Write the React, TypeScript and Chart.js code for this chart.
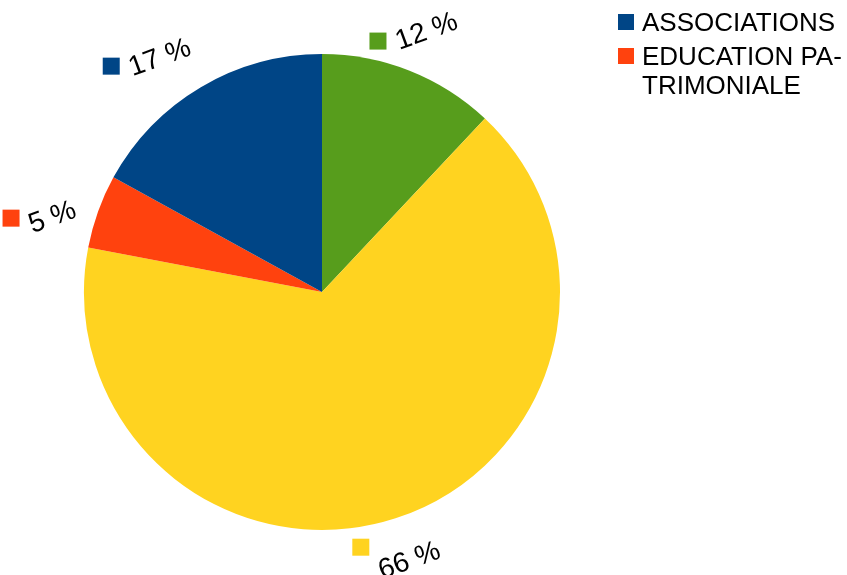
import React, { useEffect, useRef } from "react";
import { Chart, registerables } from "chart.js";

Chart.register(...registerables);

// Data in LibreOffice order (drawn counter-clockwise from 12 o'clock)
const categories = ["ASSOCIATIONS", "EDUCATION PATRIMONIALE", "", ""];
const legendLines = [["ASSOCIATIONS"], ["EDUCATION PA-", "TRIMONIALE"]];
const values = [17, 5, 66, 12];
const colors = ["#004586", "#ff420e", "#ffd320", "#579d1c"];

const FONT = '"Liberation Sans", Arial, sans-serif';

const total = values.reduce((a, b) => a + b, 0);
const pctText = values.map((v) => `${Math.round((v / total) * 100)} %`);

// Chart.js draws clockwise, so reverse to reproduce counter-clockwise order
const drawLabels = [...categories].reverse();
const drawValues = [...values].reverse();
const drawColors = [...colors].reverse();
const drawPct = [...pctText].reverse();

const labelPlugin = {
  id: "pctLabels",
  afterDatasetsDraw(chart: any) {
    const ctx = chart.ctx as CanvasRenderingContext2D;
    const meta = chart.getDatasetMeta(0);
    const fs = 28;
    const cap = fs * 0.72;
    const theta = (-20 * Math.PI) / 180;
    const c = Math.cos(theta);
    const s = Math.abs(Math.sin(theta));
    ctx.save();
    ctx.font = `${fs}px ${FONT}`;
    meta.data.forEach((arc: any, i: number) => {
      const p = arc.getProps(["x", "y", "startAngle", "endAngle", "outerRadius"], true);
      let mid = (p.startAngle + p.endAngle) / 2;
      if (Math.cos(mid) < 0) mid -= (4 * Math.PI) / 180;
      const ux = Math.cos(mid);
      const uy = Math.sin(mid);
      const text = drawPct[i];
      const tw = ctx.measureText(text).width;
      const W = tw * c + cap * s;
      const H = tw * s + cap * c;
      const ext = (W / 2) * Math.abs(ux) + (H / 2) * Math.abs(uy);
      const d = p.outerRadius + ext + 13;
      const cx = p.x + ux * d;
      const cy = p.y + uy * d;
      ctx.save();
      ctx.translate(cx, cy);
      ctx.rotate(theta);
      ctx.textAlign = "center";
      ctx.textBaseline = "alphabetic";
      ctx.fillStyle = "#000";
      ctx.fillText(text, 0, cap / 2);
      ctx.restore();
      // key square
      const sq = 17;
      const sqRight = cx - W / 2 - 6;
      const sqCy = cy - uy * (H / 2 - 8);
      ctx.fillStyle = drawColors[i];
      ctx.fillRect(sqRight - sq, sqCy - sq / 2, sq, sq);
    });
    ctx.restore();
  },
  afterDraw(chart: any) {
    const ctx = chart.ctx as CanvasRenderingContext2D;
    ctx.save();
    ctx.font = `26px ${FONT}`;
    ctx.textAlign = "left";
    ctx.textBaseline = "alphabetic";
    let y = 14;
    const x = 618;
    const lh = 29;
    categories.forEach((cat, i) => {
      if (!cat) return;
      const lines = legendLines[i] || [cat];
      ctx.fillStyle = colors[i];
      ctx.fillRect(x, y, 16, 16);
      ctx.fillStyle = "#000";
      lines.forEach((ln, k) => {
        ctx.fillText(ln, x + 24, y + 17 + k * lh);
      });
      y += lines.length * lh + 5;
    });
    ctx.restore();
  },
};

export default function App() {
  const ref = useRef<HTMLCanvasElement>(null);
  useEffect(() => {
    if (!ref.current) return;
    const chart = new Chart(ref.current, {
      type: "pie",
      data: {
        labels: drawLabels,
        datasets: [
          {
            data: drawValues,
            backgroundColor: drawColors,
            borderWidth: 0,
          },
        ],
      },
      options: {
        responsive: false,
        animation: false,
        rotation: 0,
        layout: { padding: { left: 84, right: 287, top: 54, bottom: 45 } },
        plugins: {
          legend: { display: false },
          tooltip: { enabled: false },
        },
      },
      plugins: [labelPlugin],
    });
    return () => chart.destroy();
  }, []);
  return (
    <div style={{ position: "fixed", left: 0, top: 0, width: 847, height: 575, background: "#fff" }}>
      <canvas ref={ref} width={847} height={575} style={{ width: 847, height: 575 }} />
    </div>
  );
}
